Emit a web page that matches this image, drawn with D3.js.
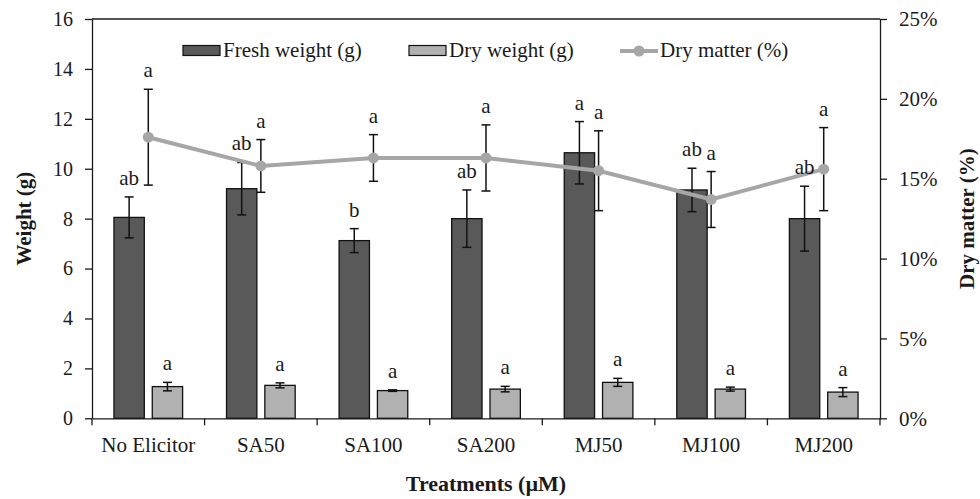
<!DOCTYPE html>
<html>
<head>
<meta charset="utf-8">
<script src="https://cdn.jsdelivr.net/npm/d3@7/dist/d3.min.js"></script>
<style>
  body { margin: 0; background: #fff; }
  svg text { font-family: "Liberation Serif", "Times New Roman", serif; fill: #1a1a1a; }
  .axis path, .axis line { stroke: #1a1a1a; stroke-width: 1.3px; }
</style>
</head>
<body>
<div id="chart"></div>
<script>
// data
var categories = ["No Elicitor", "SA50", "SA100", "SA200", "MJ50", "MJ100", "MJ200"];

var freshWeight = [8.05, 9.20, 7.12, 8.00, 10.64, 9.15, 8.00];
var freshErr    = [0.82, 1.05, 0.48, 1.15, 1.25, 0.87, 1.30];
var freshLetters = ["ab", "ab", "b", "ab", "a", "ab", "ab"];

var dryWeight = [1.27, 1.32, 1.11, 1.17, 1.44, 1.17, 1.05];
var dryErr    = [0.17, 0.10, 0.03, 0.11, 0.16, 0.08, 0.18];
var dryLetters = ["a", "a", "a", "a", "a", "a", "a"];

var dryMatter = [17.6, 15.8, 16.3, 16.3, 15.5, 13.7, 15.6];   // percent
var dryMatterErr = [3.0, 1.65, 1.46, 2.07, 2.5, 1.75, 2.6];
var dryMatterLetters = ["a", "a", "a", "a", "a", "a", "a"];

var weightTicks = [0, 2, 4, 6, 8, 10, 12, 14, 16];
var percentTicks = [0, 5, 10, 15, 20, 25];

var freshColor = "#595959", dryColor = "#b1b1b1", lineColor = "#a6a6a6";

var margin = { top: 19, right: 100, bottom: 80.7, left: 92 };
var W = 980, H = 499;
var width = W - margin.left - margin.right,
    height = H - margin.top - margin.bottom;

var svg = d3.select("#chart").append("svg")
    .attr("width", W)
    .attr("height", H);

var g = svg.append("g")
    .attr("transform", "translate(" + margin.left + "," + margin.top + ")");

// scales
var x = d3.scaleBand().domain(categories).range([0, width]).padding(0);
var x1 = d3.scaleBand().domain(["fresh", "dry"]).range([0, x.bandwidth()])
    .paddingInner(0.208).paddingOuter(0.573);
var y = d3.scaleLinear().domain([0, 16]).range([height, 0]);
var yR = d3.scaleLinear().domain([0, 25]).range([height, 0]);

var rows = categories.map(function(c, i) {
    return {
        cat: c,
        fresh: freshWeight[i], freshErr: freshErr[i], freshLetter: freshLetters[i],
        dry: dryWeight[i], dryErr: dryErr[i], dryLetter: dryLetters[i],
        dm: dryMatter[i], dmErr: dryMatterErr[i], dmLetter: dryMatterLetters[i]
    };
});

// frame top line
g.append("line")
    .attr("x1", 0).attr("x2", width)
    .attr("y1", 0).attr("y2", 0)
    .attr("stroke", "#1a1a1a").attr("stroke-width", 1.3);

// bars
var groups = g.selectAll(".grp")
    .data(rows)
    .enter().append("g")
    .attr("class", "grp")
    .attr("transform", function(d) { return "translate(" + x(d.cat) + ",0)"; });

groups.append("rect")
    .attr("x", x1("fresh"))
    .attr("width", x1.bandwidth())
    .attr("y", function(d) { return y(d.fresh); })
    .attr("height", function(d) { return height - y(d.fresh); })
    .attr("fill", freshColor)
    .attr("stroke", "#111").attr("stroke-width", 1.3);

groups.append("rect")
    .attr("x", x1("dry"))
    .attr("width", x1.bandwidth())
    .attr("y", function(d) { return y(d.dry); })
    .attr("height", function(d) { return height - y(d.dry); })
    .attr("fill", dryColor)
    .attr("stroke", "#111").attr("stroke-width", 1.3);

// error bar helper
function errorBar(sel, cx, top, bottom) {
    var cap = 4.5;
    sel.append("line").attr("x1", cx).attr("x2", cx).attr("y1", top).attr("y2", bottom);
    sel.append("line").attr("x1", cx - cap).attr("x2", cx + cap).attr("y1", top).attr("y2", top);
    sel.append("line").attr("x1", cx - cap).attr("x2", cx + cap).attr("y1", bottom).attr("y2", bottom);
}

var errG = g.append("g").attr("stroke", "#111").attr("stroke-width", 1.5);

rows.forEach(function(d) {
    var fx = x(d.cat) + x1("fresh") + x1.bandwidth() / 2;
    var dx = x(d.cat) + x1("dry") + x1.bandwidth() / 2;
    var mx = x(d.cat) + x.bandwidth() / 2;
    errorBar(errG, fx, y(d.fresh + d.freshErr), y(d.fresh - d.freshErr));
    errorBar(errG, dx, y(d.dry + d.dryErr), y(d.dry - d.dryErr));
    errorBar(errG, mx, yR(d.dm + d.dmErr), yR(d.dm - d.dmErr));
});

// dry matter line
var line = d3.line()
    .x(function(d) { return x(d.cat) + x.bandwidth() / 2; })
    .y(function(d) { return yR(d.dm); });

g.append("path")
    .datum(rows)
    .attr("d", line)
    .attr("fill", "none")
    .attr("stroke", lineColor)
    .attr("stroke-width", 4);

g.selectAll(".pt")
    .data(rows)
    .enter().append("circle")
    .attr("class", "pt")
    .attr("cx", function(d) { return x(d.cat) + x.bandwidth() / 2; })
    .attr("cy", function(d) { return yR(d.dm); })
    .attr("r", 5.5)
    .attr("fill", lineColor);

// significance letters
var letterSize = "21px", letterGap = 12;
rows.forEach(function(d) {
    g.append("text")
        .attr("x", x(d.cat) + x1("fresh") + x1.bandwidth() / 2)
        .attr("y", y(d.fresh + d.freshErr) - letterGap)
        .attr("text-anchor", "middle").style("font-size", letterSize)
        .text(d.freshLetter);
    g.append("text")
        .attr("x", x(d.cat) + x1("dry") + x1.bandwidth() / 2)
        .attr("y", y(d.dry + d.dryErr) - letterGap)
        .attr("text-anchor", "middle").style("font-size", letterSize)
        .text(d.dryLetter);
    g.append("text")
        .attr("x", x(d.cat) + x.bandwidth() / 2)
        .attr("y", yR(d.dm + d.dmErr) - letterGap)
        .attr("text-anchor", "middle").style("font-size", letterSize)
        .text(d.dmLetter);
});

// axes
var yAxis = d3.axisLeft(y).tickValues(weightTicks).tickSize(7).tickSizeOuter(0).tickPadding(12);
g.append("g").attr("class", "axis y-axis").call(yAxis)
    .selectAll("text").style("font-size", "20px");

var yAxisR = d3.axisRight(yR).tickValues(percentTicks).tickSize(7).tickSizeOuter(0).tickPadding(12)
    .tickFormat(function(d) { return d + "%"; });
g.append("g").attr("class", "axis y-axis-r")
    .attr("transform", "translate(" + width + ",0)")
    .call(yAxisR)
    .selectAll("text").style("font-size", "21px");

var xAxis = d3.axisBottom(x).tickSize(0).tickSizeOuter(0);
var xg = g.append("g").attr("class", "axis x-axis")
    .attr("transform", "translate(0," + height + ")")
    .call(xAxis);
xg.selectAll("text").attr("dy", null).attr("y", 33.5).style("font-size", "21px");

// tick marks between categories
var bounds = categories.map(function(c) { return x(c); }).concat([width]);
xg.selectAll(".sep")
    .data(bounds)
    .enter().append("line")
    .attr("class", "sep")
    .attr("x1", function(d) { return d; }).attr("x2", function(d) { return d; })
    .attr("y1", 0).attr("y2", 7);

// axis titles
svg.append("text")
    .attr("transform", "translate(31," + (margin.top + height / 2) + ") rotate(-90)")
    .attr("text-anchor", "middle")
    .style("font-size", "21px").style("font-weight", "bold")
    .text("Weight (g)");

svg.append("text")
    .attr("transform", "translate(974," + (margin.top + height / 2) + ") rotate(-90)")
    .attr("text-anchor", "middle")
    .style("font-size", "21px").style("font-weight", "bold")
    .text("Dry matter (%)");

svg.append("text")
    .attr("x", margin.left + width / 2)
    .attr("y", 491)
    .attr("text-anchor", "middle")
    .style("font-size", "22px").style("font-weight", "bold")
    .text("Treatments (\u00b5M)");

// legend
var legendItems = [
    { label: "Fresh weight (g)", type: "bar", color: freshColor, x: 183 },
    { label: "Dry weight (g)", type: "bar", color: dryColor, x: 409 },
    { label: "Dry matter (%)", type: "line", color: lineColor, x: 620 }
];

var legend = svg.append("g").attr("class", "legend");
legendItems.forEach(function(it) {
    if (it.type === "bar") {
        legend.append("rect")
            .attr("x", it.x).attr("y", 45.5)
            .attr("width", 37).attr("height", 10)
            .attr("fill", it.color).attr("stroke", "#111").attr("stroke-width", 1.2);
    } else {
        legend.append("line")
            .attr("x1", it.x).attr("x2", it.x + 38)
            .attr("y1", 51).attr("y2", 51)
            .attr("stroke", it.color).attr("stroke-width", 4);
        legend.append("circle")
            .attr("cx", it.x + 19).attr("cy", 51).attr("r", 5.5)
            .attr("fill", it.color);
    }
    legend.append("text")
        .attr("x", it.x + 40).attr("y", 57)
        .style("font-size", "21px")
        .text(it.label);
});
</script>
</body>
</html>
